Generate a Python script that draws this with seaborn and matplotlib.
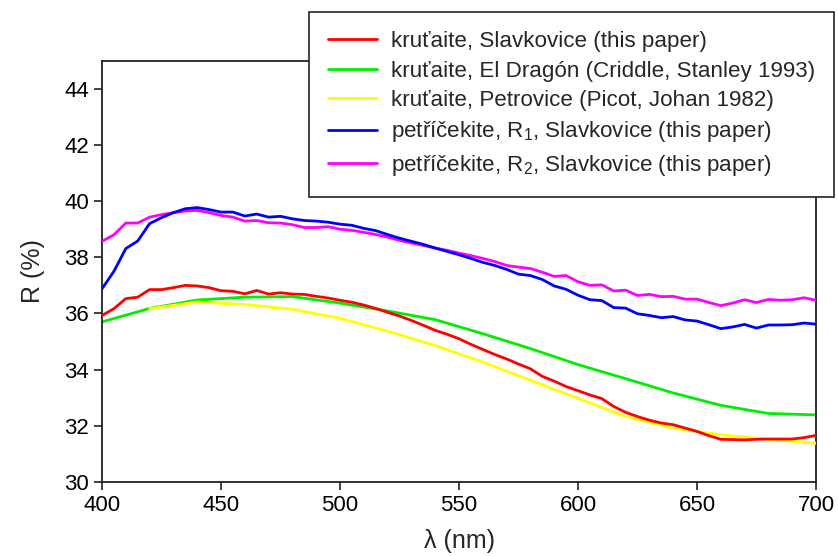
import numpy as np
import pandas as pd
import matplotlib
matplotlib.use("Agg")
import matplotlib.pyplot as plt
import seaborn as sns

# ---------------- data ----------------
wl5 = list(range(400, 701, 5))
wl20 = list(range(400, 701, 20))
wl20_y = list(range(420, 701, 20))

krutaite_slavkovice = [
    35.93, 36.17, 36.53, 36.58, 36.85, 36.85, 36.92, 37.00, 36.98, 36.92,
    36.81, 36.79, 36.70, 36.82, 36.69, 36.74, 36.69, 36.68, 36.61, 36.55,
    36.47, 36.40, 36.30, 36.18, 36.04, 35.91, 35.75, 35.58, 35.40, 35.26,
    35.10, 34.90, 34.72, 34.54, 34.38, 34.20, 34.03, 33.76, 33.59, 33.40,
    33.25, 33.10, 32.97, 32.69, 32.48, 32.33, 32.20, 32.10, 32.04, 31.92,
    31.80, 31.65, 31.52, 31.51, 31.50, 31.52, 31.53, 31.53, 31.53, 31.58,
    31.66]

krutaite_eldragon = [35.70, 36.18, 36.48, 36.58, 36.60, 36.37, 36.09, 35.78,
                     35.28, 34.75, 34.18, 33.68, 33.17, 32.73, 32.44, 32.39]

krutaite_petrovice = [36.17, 36.41, 36.32, 36.15, 35.83, 35.37, 34.86, 34.27,
                      33.62, 32.98, 32.33, 31.92, 31.68, 31.52, 31.38]

petricekite_r1 = [
    36.88, 37.50, 38.31, 38.58, 39.20, 39.41, 39.59, 39.73, 39.77, 39.70,
    39.61, 39.61, 39.47, 39.54, 39.43, 39.46, 39.37, 39.31, 39.29, 39.25,
    39.18, 39.14, 39.03, 38.95, 38.81, 38.68, 38.57, 38.46, 38.33, 38.21,
    38.09, 37.96, 37.82, 37.71, 37.57, 37.40, 37.35, 37.21, 36.98, 36.86,
    36.65, 36.49, 36.46, 36.21, 36.19, 35.99, 35.93, 35.85, 35.89, 35.77,
    35.73, 35.60, 35.46, 35.52, 35.61, 35.48, 35.59, 35.59, 35.60, 35.66,
    35.62]

petricekite_r2 = [
    38.57, 38.80, 39.22, 39.22, 39.43, 39.52, 39.59, 39.65, 39.67, 39.59,
    39.49, 39.43, 39.29, 39.31, 39.23, 39.22, 39.16, 39.06, 39.06, 39.09,
    39.00, 38.96, 38.89, 38.81, 38.72, 38.60, 38.51, 38.42, 38.33, 38.25,
    38.15, 38.06, 37.96, 37.85, 37.71, 37.65, 37.60, 37.47, 37.32, 37.35,
    37.13, 37.00, 37.02, 36.80, 36.83, 36.64, 36.68, 36.60, 36.61, 36.51,
    36.51, 36.39, 36.28, 36.37, 36.49, 36.39, 36.50, 36.47, 36.49, 36.56,
    36.47]

labels = [
    "kruťaite, Slavkovice (this paper)",
    "kruťaite, El Dragón (Criddle, Stanley 1993)",
    "kruťaite, Petrovice (Picot, Johan 1982)",
    "petříčekite, R$_1$, Slavkovice (this paper)",
    "petříčekite, R$_2$, Slavkovice (this paper)",
]
colors = ["#FF0000", "#00EE00", "#FFFF00", "#0000FF", "#FF00FF"]
xticks = [400, 450, 500, 550, 600, 650, 700]
yticks = [30, 32, 34, 36, 38, 40, 42, 44]

# ---------------- style ----------------
sns.set_style("ticks")
plt.rcParams["font.family"] = ["Liberation Sans", "DejaVu Sans"]
plt.rcParams["mathtext.fontset"] = "custom"
plt.rcParams["mathtext.rm"] = "Liberation Sans"
plt.rcParams["mathtext.it"] = "Liberation Sans:italic"

fig = plt.figure(figsize=(8.38, 5.56), dpi=100)
ax = fig.add_axes([102 / 838, 1 - 482 / 556, (816 - 102) / 838, (482 - 60.7) / 556])

series = [
    (wl5, krutaite_slavkovice, 0, 4),
    (wl20, krutaite_eldragon, 1, 2),
    (wl20_y, krutaite_petrovice, 2, 3),
    (wl5, petricekite_r1, 3, 6),
    (wl5, petricekite_r2, 4, 5),
]
handles = [None] * 5
for x, y, i, z in series:
    df = pd.DataFrame({"x": x, "y": y})
    sns.lineplot(data=df, x="x", y="y", ax=ax, color=colors[i], lw=2,
                 zorder=z, legend=False)
    handles[i] = ax.lines[-1]

ax.set_xlim(400, 700)
ax.set_ylim(30, 45)
ax.set_xticks(xticks)
ax.set_yticks(yticks)
ax.tick_params(axis="both", labelsize=16, length=6, width=1.2, direction="out",
               colors="#222222", labelcolor="black")
for s in ax.spines.values():
    s.set_linewidth(1.3)
    s.set_color("#222222")
    s.set_visible(True)
ax.set_xlabel("λ (nm)", fontsize=18, labelpad=9)
ax.set_ylabel("R (%)", fontsize=18, labelpad=14)

leg = fig.legend(handles, labels, loc="upper left",
                 bbox_to_anchor=(309 / 838, 1 - 12 / 556), borderaxespad=0,
                 fontsize=16.1, frameon=True, fancybox=False, edgecolor="#222222",
                 framealpha=1, handlelength=2.2, handletextpad=0.6,
                 borderpad=0.85, labelspacing=0.38)
leg.get_frame().set_linewidth(1.2)

fig.savefig("out.png", dpi=100)
